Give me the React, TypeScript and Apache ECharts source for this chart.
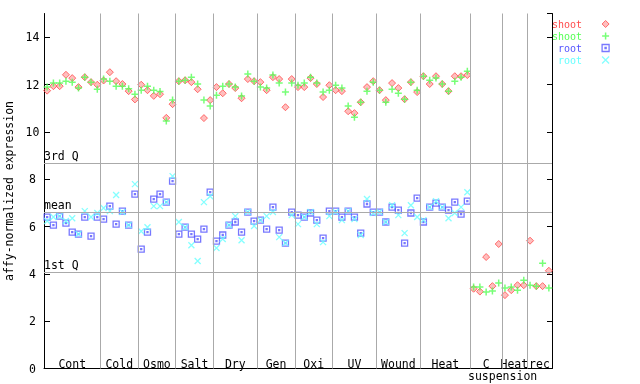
import React, { useEffect, useRef } from 'react';
import * as echarts from 'echarts';

// Group (condition) names along the x axis and how many samples each holds
const groupNames = ['Cont', 'Cold', 'Osmo', 'Salt', 'Dry', 'Gen', 'Oxi', 'UV', 'Wound', 'Heat', 'C', 'Heat', 'rec'];
const groupSizes = [9, 6, 6, 6, 7, 6, 6, 7, 7, 8, 5, 4, 4];
const subLabel = 'suspension';

// shoot, replicate 1 (red diamonds)
const shootRed = [
  11.74, 11.93, 11.93, 12.41, 12.27, 11.89, 12.31, 12.10, 11.99,
  12.17, 12.52, 12.14, 12.02, 11.72, 11.37,
  11.99, 11.76, 11.52, 11.59, 10.59, 11.17,
  12.14, 12.18, 12.10, 11.80, 10.58, 11.34,
  11.89, 11.63, 12.02, 11.85, 11.42, 12.23, 12.14,
  12.10, 11.76, 12.31, 12.23, 11.04, 12.23,
  11.89, 11.89, 12.27, 12.02, 11.47, 11.97,
  11.76, 11.72, 10.87, 10.79, 11.25, 11.89, 12.14,
  11.76, 11.34, 12.06, 11.85, 11.38, 12.10, 11.68,
  12.35, 12.02, 12.35, 12.02, 11.72, 12.35, 12.35, 12.40,
  3.37, 3.25, 4.71, 3.48, 5.26,
  3.10, 3.31, 3.52, 3.52,
  5.40, 3.48, 3.48, 4.13,
];

// shoot, replicate 2 (green plus)
const shootGreen = [
  11.89, 12.06, 12.06, 12.14, 12.10, 11.85, 12.31, 12.10, 11.80,
  12.23, 12.14, 11.93, 11.93, 11.82, 11.59,
  11.76, 11.93, 11.76, 11.70, 10.46, 11.34,
  12.14, 12.18, 12.31, 12.02, 11.34, 11.09,
  11.55, 11.93, 12.02, 11.89, 11.51, 12.44, 12.14,
  11.89, 11.85, 12.40, 12.06, 11.68, 12.06,
  11.97, 12.06, 12.31, 12.06, 11.68, 11.76,
  11.97, 11.85, 11.09, 10.62, 11.25, 11.72, 12.10,
  11.76, 11.25, 11.80, 11.63, 11.38, 12.10, 11.76,
  12.35, 12.18, 12.27, 12.02, 11.72, 12.14, 12.31, 12.56,
  3.44, 3.44, 3.23, 3.27, 3.61,
  3.40, 3.44, 3.31, 3.73,
  3.52, 3.48, 4.45, 3.40,
];

// root, replicate 1 (blue squares)
const rootBlue = [
  6.40, 6.06, 6.44, 6.14, 5.76, 5.68, 6.40, 5.59, 6.40,
  6.31, 6.86, 6.10, 6.65, 6.06, 7.37,
  5.04, 5.76, 7.16, 7.37, 7.03, 7.92,
  5.68, 5.97, 5.68, 5.47, 5.89, 7.45,
  5.38, 5.64, 6.06, 6.19, 5.76, 6.61, 6.23,
  6.27, 5.89, 6.82, 5.85, 5.30, 6.61,
  6.48, 6.40, 6.57, 6.27, 5.51, 6.65,
  6.65, 6.40, 6.65, 6.40, 5.72, 6.95, 6.61,
  6.61, 6.19, 6.82, 6.69, 5.30, 6.57, 7.20,
  6.19, 6.82, 6.99, 6.82, 6.69, 7.03, 6.52, 7.07,
  null, null, null, null, null,
  null, null, null, null,
  null, null, null, null,
];

// root, replicate 2 (cyan crosses)
const rootCyan = [
  6.23, 6.40, 6.44, 6.23, 6.35, 5.68, 6.65, 6.40, 6.57,
  6.78, 6.65, 7.33, 6.61, 6.06, 7.79,
  5.80, 5.97, 6.86, 6.86, 7.03, 8.13,
  6.19, 5.97, 5.21, 4.54, 7.03, 7.28,
  5.09, 5.47, 6.06, 6.44, 5.42, 6.61, 6.02,
  6.27, 6.44, 6.61, 5.55, 5.30, 6.48,
  6.10, 6.40, 6.61, 6.10, 5.34, 6.44,
  6.61, 6.27, 6.65, 6.31, 5.64, 7.16, 6.57,
  6.61, 6.19, 6.90, 6.48, 5.72, 6.90, 6.40,
  6.27, 6.82, 7.07, 6.82, 6.35, 6.57, 6.82, 7.45,
  null, null, null, null, null,
  null, null, null, null,
  null, null, null, null,
];

// Reference lines
const refNames = ['3rd Q', 'mean', '1st Q'];
const refValues = [8.68, 6.61, 4.07];

const yMin = 0;
const yMax = 15;
const yInterval = 2;

const FONT = '"DejaVu Sans Mono", monospace';
const RED = '#ff4c4c';
const GREEN = '#55ff55';
const BLUE = '#5555ff';
const CYAN = '#66ffff';
const GRID_LINE = '#aaaaaa';

const DIAMOND = 'path://M3.5,0L7,3.5L3.5,7L0,3.5Z';
const PLUS = 'path://M0,3.5L7,3.5M3.5,0L3.5,7';
const SQUARE = 'path://M0,0L6,0L6,6L0,6Z M2.5,2.5L3.5,2.5L3.5,3.5L2.5,3.5Z';
const CROSS = 'path://M0,0L6,6M6,0L0,6';

export default function App() {
  const ref = useRef<HTMLDivElement>(null);

  useEffect(() => {
    if (!ref.current) return;
    const chart = echarts.init(ref.current, null, { renderer: 'svg' });

    const bounds: [number, number][] = [];
    let acc = 0;
    for (const s of groupSizes) {
      bounds.push([acc, acc + s]);
      acc += s;
    }
    const total = acc;

    const toPoints = (vals: (number | null)[]) =>
      vals
        .map((v, i) => (v == null ? null : [i + 0.5, v]))
        .filter((p) => p != null) as number[][];

    const textBase = { fontFamily: FONT, fontSize: 11.5, color: '#000' };

    const option: any = {
      animation: false,
      grid: {
        left: 44,
        top: 13.5,
        width: 508,
        height: 355,
        containLabel: false,
        outerBoundsMode: 'none',
      },
      xAxis: {
        type: 'value',
        min: 0,
        max: total,
        position: 'top',
        axisLine: { show: true, lineStyle: { color: '#000', width: 1 } },
        axisTick: { show: false },
        axisLabel: { show: false },
        splitLine: { show: false },
      },
      yAxis: [
        {
          type: 'value',
          min: yMin,
          max: yMax,
          interval: yInterval,
          position: 'left',
          name: 'affy-normalized expression',
          nameLocation: 'middle',
          nameGap: 26,
          nameTextStyle: { ...textBase },
          axisLine: { show: true, lineStyle: { color: '#000', width: 1 } },
          axisTick: { show: true, inside: true, length: 6, lineStyle: { color: '#000' } },
          axisLabel: { ...textBase, margin: 11.5, align: 'center', showMaxLabel: false },
          splitLine: { show: false },
        },
        {
          type: 'value',
          min: yMin,
          max: yMax,
          interval: yInterval,
          position: 'right',
          axisLine: { show: true, lineStyle: { color: '#000', width: 1 } },
          axisTick: { show: true, inside: true, length: 5, lineStyle: { color: '#000' } },
          axisLabel: { show: false },
          splitLine: { show: false },
        },
      ],
      legend: {
        orient: 'vertical',
        left: 552,
        top: 18,
        align: 'right',
        itemWidth: 37,
        itemHeight: 7,
        itemGap: 0,
        padding: 0,
        selectedMode: false,
        formatter: (n: string) => n.trim(),
        textStyle: { fontFamily: FONT, fontSize: 10, lineHeight: 12 },
        itemStyle: { borderWidth: 'inherit' },
        data: [
          { name: 'shoot', textStyle: { color: RED } },
          { name: 'shoot ', textStyle: { color: GREEN } },
          { name: 'root', textStyle: { color: BLUE } },
          { name: 'root ', textStyle: { color: CYAN } },
        ],
      },
      graphic: [
        {
          type: 'text',
          left: 468,
          top: 370,
          style: { text: subLabel, font: `11.5px ${FONT}`, fill: '#000' },
        },
      ],
      series: [
        {
          type: 'scatter',
          name: 'shoot',
          data: toPoints(shootRed),
          symbol: DIAMOND,
          symbolSize: 7,
          itemStyle: { color: 'rgba(255,76,76,0.45)', borderColor: RED, borderWidth: 1 },
          z: 3,
          markLine: {
            silent: true,
            symbol: 'none',
            animation: false,
            lineStyle: { color: GRID_LINE, width: 1, type: 'solid' },
            label: { show: false },
            emphasis: { disabled: true },
            data: [
              ...bounds.slice(0, -1).map((b) => ({ xAxis: b[1] })),
              ...refValues.map((v, k) => ({
                yAxis: v,
                name: refNames[k],
                label: {
                  show: true,
                  formatter: '{b}',
                  position: 'insideStartTop',
                  distance: [0, 1],
                  padding: 0,
                  ...textBase,
                },
              })),
            ],
          },
          markArea: {
            silent: true,
            itemStyle: { color: 'rgba(0,0,0,0)' },
            emphasis: { disabled: true },
            label: { show: true, position: 'insideBottom', distance: -1, ...textBase },
            data: bounds.map((b, k) => [{ xAxis: b[0], name: groupNames[k] }, { xAxis: b[1] }]),
          },
        },
        {
          type: 'scatter',
          name: 'shoot ',
          data: toPoints(shootGreen),
          symbol: PLUS,
          symbolSize: 7,
          itemStyle: { color: GREEN, borderColor: GREEN, borderWidth: 1.5 },
          z: 4,
        },
        {
          type: 'scatter',
          name: 'root',
          data: toPoints(rootBlue),
          symbol: SQUARE,
          symbolSize: 6,
          itemStyle: { color: 'rgba(0,0,0,0)', borderColor: BLUE, borderWidth: 1.3 },
          z: 3,
        },
        {
          type: 'scatter',
          name: 'root ',
          data: toPoints(rootCyan),
          symbol: CROSS,
          symbolSize: 6,
          itemStyle: { color: CYAN, borderColor: CYAN, borderWidth: 1.3 },
          z: 4,
        },
      ],
    };

    chart.setOption(option);
    return () => chart.dispose();
  }, []);

  return (
    <div
      ref={ref}
      style={{ position: 'fixed', left: 0, top: 0, width: 640, height: 384 }}
    />
  );
}
